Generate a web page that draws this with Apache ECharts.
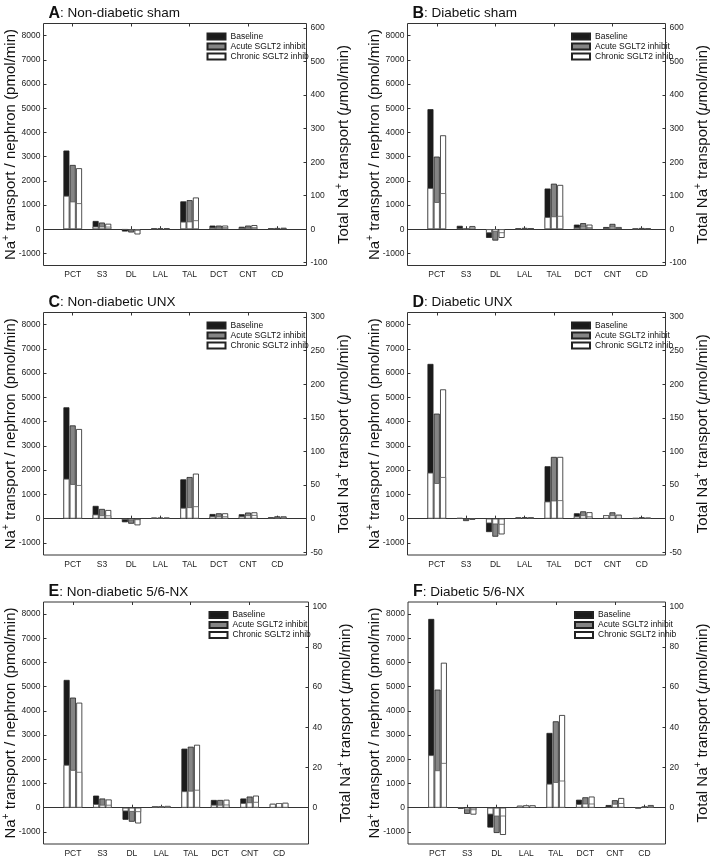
<!DOCTYPE html>
<html>
<head>
<meta charset="utf-8">
<script src="https://cdn.jsdelivr.net/npm/echarts@6/dist/echarts.min.js"></script>
<style>
html, body { margin: 0; padding: 0; background: #fff; }
#chart { width: 711px; height: 858px; }
</style>
</head>
<body>
<div id="chart"></div>
<script>
// nephron segments on the x axis
const segments = ['PCT', 'S3', 'DL', 'LAL', 'TAL', 'DCT', 'CNT', 'CD'];
const groupNames = ['Baseline', 'Acute SGLT2 inhibit', 'Chronic SGLT2 inhib'];
const groupColors = ['#1b1b1b', '#858585', '#ffffff'];

const panelLetters = ['A', 'B', 'C', 'D', 'E', 'F'];
const panelTitles = ['Non-diabetic sham', 'Diabetic sham', 'Non-diabetic UNX',
  'Diabetic UNX', 'Non-diabetic 5/6-NX', 'Diabetic 5/6-NX'];

// tick labels
const leftTicks = [-1000, 0, 1000, 2000, 3000, 4000, 5000, 6000, 7000, 8000];
const rightTicksSham = [-100, 0, 100, 200, 300, 400, 500, 600];
const rightTicksUNX = [-50, 0, 50, 100, 150, 200, 250, 300];
const rightTicksNX = [0, 20, 40, 60, 80, 100];
// µmol/min per (pmol/min per nephron): nephron count x 1e-6
const totalScale = [0.0722, 0.0722, 0.0361, 0.0361, 0.01204, 0.01204];

// Na+ transport per nephron (pmol/min); rows = baseline, acute, chronic
const transportA = [
  [3250, 340, -95, 35, 1150, 150, 100, 40],
  [2655, 275, -135, 35, 1200, 150, 150, 50],
  [2520, 225, -215, 40, 1310, 150, 170, 60]
];
// lower (white) part of each bar
const innerA = [
  [1380, 110, -20, 20, 310, 70, 60, 20],
  [1145, 110, -40, 20, 320, 70, 70, 30],
  [1075, 105, -60, 20, 370, 80, 80, 30]
];
const transportB = [
  [4960, 140, -360, 40, 1680, 190, 90, 20],
  [3000, 10, -470, 55, 1880, 250, 220, 50],
  [3880, 130, -360, 45, 1830, 190, 90, 30]
];
const innerB = [
  [1700, 30, -160, 20, 500, 70, 50, 10],
  [1120, 5, -100, 30, 530, 100, 100, 20],
  [1490, 100, -160, 25, 550, 80, 50, 15]
];
const transportC = [
  [4590, 525, -150, 40, 1620, 190, 180, 55],
  [3845, 400, -210, 40, 1715, 220, 250, 95],
  [3695, 355, -275, 40, 1855, 220, 260, 95]
];
const innerC = [
  [1645, 170, -50, 20, 445, 95, 95, 30],
  [1425, 135, -70, 20, 470, 95, 135, 50],
  [1385, 135, -60, 20, 510, 95, 150, 50]
];
const transportD = [
  [6380, 25, -555, 50, 2160, 220, 140, 25],
  [4330, -100, -745, 60, 2545, 300, 260, 55],
  [5330, -40, -650, 55, 2545, 265, 165, 40]
];
const innerD = [
  [1895, 10, -195, 25, 705, 95, 140, 5],
  [1465, -40, -235, 30, 745, 135, 135, 20],
  [1715, -20, -250, 30, 760, 95, 135, 15]
];
const transportE = [
  [5280, 500, -500, 60, 2440, 320, 380, 160],
  [4550, 380, -580, 60, 2520, 320, 460, 190],
  [4340, 340, -650, 70, 2600, 330, 500, 200]
];
const innerE = [
  [1770, 150, -150, 60, 680, 120, 190, 160],
  [1560, 120, -170, 60, 700, 120, 220, 190],
  [1480, 120, -180, 70, 740, 130, 240, 200]
];
const transportF = [
  [7800, -40, -820, 80, 3090, 330, 110, -20],
  [4880, -255, -1045, 100, 3570, 430, 310, 50],
  [5990, -285, -1125, 100, 3830, 460, 400, 110]
];
const innerF = [
  [2170, -10, -280, 80, 990, 150, 40, -10],
  [1545, -100, -360, 100, 1060, 170, 160, 30],
  [1850, -100, -360, 100, 1120, 170, 190, 70]
];

const transports = [transportA, transportB, transportC, transportD, transportE, transportF];
const inners = [innerA, innerB, innerC, innerD, innerE, innerF];
const rightTicks = [rightTicksSham, rightTicksSham, rightTicksUNX, rightTicksUNX, rightTicksNX, rightTicksNX];

// plot boxes [left, top, width, height]
const boxes = [
  [43.5, 23.5, 263, 242],
  [407.5, 23.5, 263.5, 242],
  [43.5, 312.5, 263, 242.5],
  [407.5, 312.5, 263.5, 242.5],
  [43.5, 602, 265, 242],
  [408, 602, 266, 242]
];

const FONT = '"Liberation Sans", Arial, Helvetica, sans-serif';
const YMIN = -1500, YMAX = 8500;
const plain = function (v) { return String(v); };

const chart = echarts.init(document.getElementById('chart'));

let grid = [], xAxis = [], yAxis = [], series = [], legend = [], title = [];

boxes.forEach(function (b, i) {
  const [l, t, w, h] = b;
  const k = totalScale[i];
  const gOuter = grid.length;
  grid.push({ left: l, top: t, width: w, height: h, show: true, borderColor: '#333', borderWidth: 1 });
  const gInner = grid.length;
  grid.push({ left: l + w / 18, top: t, width: w * 8 / 9, height: h });

  // outer: frame, zero line and both value axes
  xAxis.push({
    gridIndex: gOuter, type: 'value', min: 0, max: 9,
    axisLine: { show: true, onZero: true, lineStyle: { color: '#333', width: 1 } },
    axisTick: { show: false }, axisLabel: { show: false }, splitLine: { show: false }
  });
  yAxis.push({
    gridIndex: gOuter, type: 'value', position: 'left', min: YMIN, max: YMAX,
    axisLine: { show: false }, splitLine: { show: false },
    axisTick: { show: true, inside: true, length: 3, customValues: leftTicks, lineStyle: { color: '#333' } },
    axisLabel: { customValues: leftTicks, formatter: plain, fontSize: 8.5, margin: 3, color: '#222', fontFamily: FONT },
    name: '{t|Na}{s|+}{t| transport / nephron (pmol/min)}',
    nameLocation: 'middle', nameRotate: 90, nameGap: 24, nameMoveOverlap: false,
    nameTextStyle: {
      color: '#111', fontFamily: FONT,
      rich: { t: { fontSize: 15, lineHeight: 18, fontFamily: FONT, color: '#111' },
              s: { fontSize: 10, verticalAlign: 'top', fontFamily: FONT, color: '#111' } }
    }
  });
  yAxis.push({
    gridIndex: gOuter, type: 'value', position: 'right', min: YMIN * k, max: YMAX * k,
    axisLine: { show: false }, splitLine: { show: false },
    axisTick: { show: true, inside: true, length: 3, customValues: rightTicks[i], lineStyle: { color: '#333' } },
    axisLabel: { customValues: rightTicks[i], formatter: plain, fontSize: 8.5, margin: 4, color: '#222', fontFamily: FONT },
    name: '{t|Total Na}{s|+}{t| transport (}{i|μ}{t|mol/min)}',
    nameLocation: 'middle', nameRotate: 90, nameGap: 28, nameMoveOverlap: false,
    nameTextStyle: {
      color: '#111', fontFamily: FONT,
      rich: { t: { fontSize: 15, lineHeight: 18, fontFamily: FONT, color: '#111' },
              s: { fontSize: 10, verticalAlign: 'top', fontFamily: FONT, color: '#111' },
              i: { fontSize: 15, fontStyle: 'italic', fontFamily: FONT, color: '#111' } }
    }
  });

  // inner: category axes for the bars
  const xb = xAxis.length;
  xAxis.push({
    gridIndex: gInner, type: 'category', data: segments, position: 'bottom',
    axisLine: { show: false },
    axisTick: { show: true, inside: true, length: 3, alignWithLabel: true, lineStyle: { color: '#333' } },
    axisLabel: { fontSize: 8.5, margin: 5, color: '#222', fontFamily: FONT }
  });
  const xt = xAxis.length;
  xAxis.push({
    gridIndex: gInner, type: 'category', data: segments, position: 'top',
    axisLine: { show: false },
    axisTick: { show: true, inside: true, length: 3, alignWithLabel: true, lineStyle: { color: '#333' } },
    axisLabel: { show: false }
  });
  const yi = yAxis.length;
  yAxis.push({ gridIndex: gInner, type: 'value', min: YMIN, max: YMAX, show: false });

  transports[i].forEach(function (vals, g) {
    series.push({
      type: 'bar', name: groupNames[g], xAxisIndex: xb, yAxisIndex: yi,
      data: vals, barWidth: 6, barGap: '5%',
      itemStyle: { color: groupColors[g], borderColor: '#222', borderWidth: 0.8 }
    });
  });
  inners[i].forEach(function (vals, g) {
    series.push({
      type: 'bar', name: 'inner' + g, xAxisIndex: xt, yAxisIndex: yi,
      data: vals, barWidth: 6, barGap: '5%',
      itemStyle: { color: '#ffffff', borderColor: '#555', borderWidth: 0.8 }
    });
  });

  legend.push({
    data: groupNames, orient: 'vertical', left: l + w - 100, top: t + 8,
    itemWidth: 18, itemHeight: 6, itemGap: 0, padding: 0, icon: 'rect', selectedMode: false,
    textStyle: { fontSize: 8.5, lineHeight: 10, color: '#111', fontFamily: FONT }
  });

  title.push({
    left: l + 5, top: t - 18, padding: 0,
    text: '{b|' + panelLetters[i] + '}{n|: ' + panelTitles[i] + '}',
    textStyle: {
      fontWeight: 'normal',
      rich: { b: { fontSize: 16, fontWeight: 'bold', color: '#111', fontFamily: FONT },
              n: { fontSize: 13.5, fontWeight: 'normal', color: '#111', fontFamily: FONT } }
    }
  });
});

chart.setOption({
  animation: false,
  backgroundColor: '#fff',
  title: title,
  legend: legend,
  grid: grid,
  xAxis: xAxis,
  yAxis: yAxis,
  series: series
});
</script>
</body>
</html>
